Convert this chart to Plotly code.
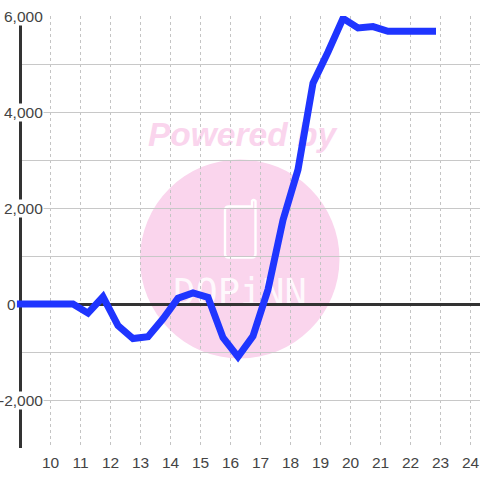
import plotly.graph_objects as go

hours = [8.88, 9.25, 9.75, 10.25, 10.75, 11.25, 11.75, 12.25, 12.75, 13.25, 13.75, 14.25, 14.75, 15.25,
         15.75, 16.25, 16.75, 17.25, 17.75, 18.25, 18.75, 19.25, 19.75, 20.25, 20.75, 21.25,
         21.75, 22.25, 22.85]
values = [0, 0, 0, 0, 0, -190, 150, -450, -720, -680, -310, 120, 230, 140,
          -700, -1100, -670, 300, 1750, 2800, 4600, 5250, 5950, 5750, 5780, 5680,
          5680, 5680, 5680]
x_ticks = list(range(10, 25))
y_grid = list(range(-3000, 7000, 1000))
y_labels = {6000: "6,000", 4000: "4,000", 2000: "2,000", -2000: "-2,000"}

W, H = 480, 480
L, R, T, B = 16, 0, 16, 32
PW, PH = W - L - R, H - T - B
X0 = 10 - (50.5 - L) / 30
X1 = 10 + (W - 50.5) / 30

def px(v):
    return (v - L) / PW

def py(v):
    return (H - B - v) / PH

PINK = "#fad5ed"
fig = go.Figure()
fig.add_trace(go.Scatter(x=hours, y=values, mode="lines", cliponaxis=False,
                         line=dict(color="#1f35ff", width=7), hoverinfo="skip"))

shapes = [
    dict(type="rect", xref="x", yref="y", layer="between", x0=X0, x1=8.95, y0=-3100, y1=6100,
         fillcolor="white", line=dict(width=0)),
    dict(type="rect", xref="x", yref="y", layer="between", x0=8.95, x1=9.05, y0=-3000, y1=6000,
         fillcolor="#333333", line=dict(width=0)),
    dict(type="circle", xref="paper", yref="paper", layer="below", x0=px(140), x1=px(339.5),
         y0=py(358.5), y1=py(159.5), fillcolor=PINK, line=dict(width=0)),
    dict(type="path", xref="paper", yref="paper", layer="below",
         path=f"M {px(252)} {py(206.5)} L {px(229)} {py(206.5)} Q {px(225)} {py(206.5)} {px(225)} {py(210.5)} "
              f"L {px(225)} {py(254)} Q {px(225)} {py(257.5)} {px(229)} {py(257.5)} "
              f"L {px(252)} {py(257.5)} Q {px(255.5)} {py(257.5)} {px(255.5)} {py(254)} "
              f"L {px(255.5)} {py(201)} Q {px(253.5)} {py(199)} {px(252)} {py(201)} Z",
         line=dict(color="white", width=2.4), fillcolor="rgba(0,0,0,0)"),
    dict(type="rect", xref="paper", yref="paper", layer="below", x0=px(142), x1=px(342),
         y0=py(147), y1=py(115), line=dict(width=0), fillcolor="rgba(0,0,0,0)",
         label=dict(text="<b><i>Powered by</i></b>", textposition="middle center",
                    font=dict(family="Liberation Sans", size=33.5, color=PINK))),
    dict(type="rect", xref="paper", yref="paper", layer="below", x0=px(160), x1=px(320),
         y0=py(311), y1=py(267), line=dict(width=0), fillcolor="rgba(0,0,0,0)",
         label=dict(text="DQPiNN", textposition="middle center",
                    font=dict(family="DejaVu Sans Mono", size=37, color="rgba(255,255,255,0.85)"))),
]

annotations = [
    dict(x=px(44), y=v, xref="paper", yref="y", xanchor="right", yanchor="middle", text=t, showarrow=False,
         font=dict(family="Liberation Sans", size=15.5, color="#444444"), bgcolor="white", borderpad=0)
    for v, t in y_labels.items()
]
annotations.append(dict(x=px(17), y=0, xref="paper", yref="y", xanchor="right", yanchor="middle", text="0",
                        showarrow=False, font=dict(family="Liberation Sans", size=15.5, color="#444444"),
                        borderpad=0))

fig.update_layout(
    width=W, height=H, autosize=False,
    margin=dict(l=L, r=R, t=T, b=B, pad=0),
    paper_bgcolor="white", plot_bgcolor="rgba(0,0,0,0)",
    showlegend=False,
    shapes=shapes, annotations=annotations,
    xaxis=dict(range=[X0, X1], tickmode="array", tickvals=x_ticks,
               ticktext=[str(t) for t in x_ticks], ticks="", showline=False, zeroline=False,
               showgrid=True, gridcolor="#c4c4c4", griddash="3px,3px", gridwidth=1,
               tickfont=dict(family="Liberation Sans", size=15.5, color="#444444"), ticklabelstandoff=3),
    yaxis=dict(range=[-3000, 6000], tickmode="array", tickvals=y_grid, showticklabels=False, ticks="",
               showgrid=True, gridcolor="#c8c8c8", gridwidth=1.3,
               zeroline=True, zerolinecolor="#333333", zerolinewidth=3,
               showline=False, layer="below traces"),
)
fig.write_html("out.html", config=dict(displayModeBar=False),
               post_script="document.body.style.margin='0';document.documentElement.style.overflow='hidden';")
